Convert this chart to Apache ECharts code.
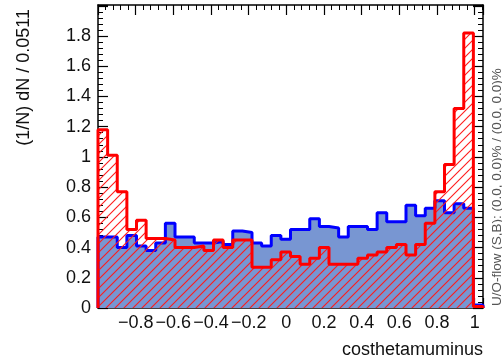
<!DOCTYPE html>
<html><head><meta charset="utf-8">
<script src="https://cdn.jsdelivr.net/npm/echarts@6/dist/echarts.min.js"></script>
<style>html,body{margin:0;padding:0;background:#fff}#c{width:502px;height:361px}</style>
</head><body><div id="c"></div><script>
// Histogram binning
const binLow = -1.0;
const binWidth = 0.0511;
// Signal (red, hatched)
const signalValues = [1.18,1.01,0.77,0.52,0.58,0.46,0.46,0.45,0.40,0.40,
  0.41,0.38,0.45,0.40,0.45,0.45,0.27,0.27,0.32,0.37,
  0.34,0.29,0.33,0.40,0.29,0.29,0.29,0.33,0.35,0.37,
  0.40,0.42,0.35,0.42,0.56,0.77,0.95,1.32,1.82,0.01];
// Background (blue, filled)
const backgroundValues = [0.47,0.47,0.40,0.48,0.41,0.38,0.43,0.56,0.47,0.47,
  0.43,0.43,0.44,0.42,0.51,0.50,0.43,0.41,0.48,0.455,
  0.52,0.52,0.59,0.54,0.53,0.47,0.54,0.54,0.52,0.63,
  0.57,0.57,0.68,0.61,0.66,0.71,0.63,0.69,0.66,0.02];
const xTitle = 'costhetamuminus';
const yTitle = '(1/N) dN / 0.0511';
const sideNote = 'U/O-flow (S,B): (0.0, 0.0)% / (0.0, 0.0)%';

function stepData(vals){
  const d = [[binLow, 0]];
  vals.forEach((v,i)=>d.push([binLow + i*binWidth, v]));
  const end = binLow + vals.length*binWidth;
  d.push([end, vals[vals.length-1]]);
  d.push([end, 0]);
  return d;
}
// hatch pattern
const s = 9;
const pc = document.createElement('canvas');
pc.width = s; pc.height = s;
const ctx = pc.getContext('2d');
ctx.strokeStyle = '#ff1a1a'; ctx.lineWidth = 1.1;
for (const k of [-s, 0, s]) { ctx.beginPath(); ctx.moveTo(k-1, s+1); ctx.lineTo(k+s+1, -1); ctx.stroke(); }

const FONT = "'Liberation Sans', Arial, sans-serif";
const axisLine = {show:true, onZero:false, lineStyle:{color:'#000', width:1.5}};
function fmt(v, hideAbove){
  if (Math.abs(v*5 - Math.round(v*5)) > 1e-6) return '';
  if (v < -0.99 || v > hideAbove) return '';
  const r = Math.round(v*10)/10;
  return r < 0 ? '\u2212' + String(-r) : String(r);
}
const xMax = binLow + 40*binWidth;
const xBase = {type:'value', min:binLow, max:xMax, interval:0.2, splitLine:{show:false}, axisLine,
  axisTick:{show:true, inside:true, length:10, lineStyle:{color:'#000', width:1.2}},
  minorTick:{show:true, splitNumber:5, length:5, lineStyle:{color:'#000', width:1}}};
const yBase = {type:'value', min:0, max:2.005, interval:0.2, splitLine:{show:false}, axisLine,
  axisTick:{show:true, inside:true, length:10, lineStyle:{color:'#000', width:1.2}},
  minorTick:{show:true, splitNumber:5, length:5, lineStyle:{color:'#000', width:1}}};

const chart = echarts.init(document.getElementById('c'), null, {renderer:'canvas'});
chart.setOption({
  animation:false,
  grid:{left:98, right:19, top:5, bottom:53},
  xAxis:[
    Object.assign({}, xBase, {position:'bottom', axisLabel:{fontSize:18, fontFamily:FONT, color:'#111', margin:6, formatter:v=>fmt(v, 1.01)}}),
    Object.assign({}, xBase, {position:'top', axisLabel:{show:false}})
  ],
  yAxis:[
    Object.assign({}, yBase, {position:'left', axisLabel:{fontSize:18, fontFamily:FONT, color:'#111', margin:7, formatter:v=>fmt(v, 1.85)}}),
    Object.assign({}, yBase, {position:'right', axisLabel:{show:false}})
  ],
  series:[
    {type:'line', step:'end', symbol:'none', data:stepData(backgroundValues), clip:true,
     lineStyle:{color:'#0000ff', width:3}, areaStyle:{color:'#7896d2', opacity:1}, z:2},
    {type:'line', step:'end', symbol:'none', data:stepData(signalValues), clip:true,
     lineStyle:{color:'#ff0000', width:3}, areaStyle:{color:{image:pc, repeat:'repeat'}, opacity:1}, z:3}
  ],
  graphic:[
    {type:'text', x:483, y:350, style:{text:xTitle, textAlign:'right', textVerticalAlign:'middle', font:'18px '+FONT, fill:'#111'}},
    {type:'text', x:24, y:9, rotation:Math.PI/2, style:{text:yTitle, textAlign:'right', textVerticalAlign:'middle', font:'18px '+FONT, fill:'#111'}},
    {type:'text', x:497, y:306, rotation:Math.PI/2, style:{text:sideNote, textAlign:'left', textVerticalAlign:'middle', font:'13.5px '+FONT, fill:'#555'}}
  ]
});
</script></body></html>
